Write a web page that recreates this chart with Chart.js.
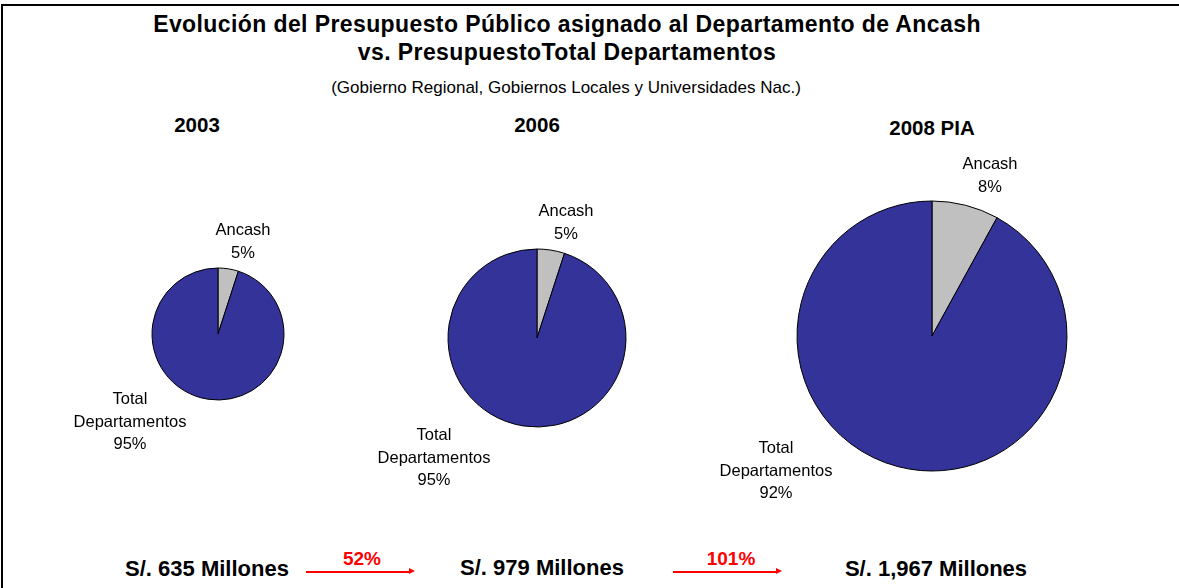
<!DOCTYPE html>
<html><head><meta charset="utf-8">
<script src="https://cdn.jsdelivr.net/npm/chart.js@4"></script>
<style>
html,body{margin:0;padding:0;background:#fff;width:1179px;height:588px;overflow:hidden;font-family:"Liberation Sans",Arial,sans-serif;}
#frame{position:absolute;left:1px;top:4px;width:1200px;height:600px;border-left:2px solid #000;border-top:2px solid #000;}
.t{position:absolute;white-space:nowrap;transform:translate(-50%,-50%);text-align:center;line-height:1;}
canvas{position:absolute;left:0;top:0;}
.arrow{position:absolute;height:1.5px;background:#f00;}
.arrow:after{content:"";position:absolute;right:-5px;top:-3px;border-left:6px solid #f00;border-top:3.5px solid transparent;border-bottom:3.5px solid transparent;}
</style></head>
<body>
<div id="frame"></div>
<div class="t" style="left:567px;top:24px;font-weight:bold;font-size:23px;letter-spacing:0.4px;">Evolución del Presupuesto Público asignado al Departamento de Ancash</div>
<div class="t" style="left:567px;top:52px;font-weight:bold;font-size:23px;letter-spacing:0.4px;">vs. PresupuestoTotal Departamentos</div>
<div class="t" style="left:566px;top:87px;font-size:17px;">(Gobierno Regional, Gobiernos Locales y Universidades Nac.)</div>
<div id="years"></div>
<div id="bottom"></div>
<canvas id="c0" width="1179" height="588"></canvas>
<canvas id="c1" width="1179" height="588"></canvas>
<canvas id="c2" width="1179" height="588"></canvas>
<script>
const years = ["2003", "2006", "2008 PIA"];
const categories = ["Ancash", "Total Departamentos"];
const ancashPct = [5, 5, 8];
const totalPct = [95, 95, 92];
const budgets = ["S/. 635 Millones", "S/. 979 Millones", "S/. 1,967 Millones"];
const growth = ["52%", "101%"];

// layout (positions/sizes only)
const W = 1179, H = 588;
const centers = [[218,334],[537,338],[932,336]];
const radii = [66, 89, 135];
const yearPos = [[197,125],[537,125],[932,128]];
const labelOffsets = [
  [[25,-92],[-88,88]],
  [[29,-115],[-103,120]],
  [[58,-160],[-156,135]]
];
const budgetPos = [[207,569],[542,568],[936,569]];
const growthPos = [[362,558],[731,558]];
const arrowPos = [[306,572,104],[673,572,104]];

const yearsDiv = document.getElementById('years');
years.forEach((y,i)=>{
  const d=document.createElement('div');d.className='t';
  d.style.cssText=`left:${yearPos[i][0]}px;top:${yearPos[i][1]}px;font-weight:bold;font-size:20.5px;`;
  d.textContent=y;yearsDiv.appendChild(d);
});
const bottom=document.getElementById('bottom');
budgets.forEach((b,i)=>{
  const d=document.createElement('div');d.className='t';
  d.style.cssText=`left:${budgetPos[i][0]}px;top:${budgetPos[i][1]}px;font-weight:bold;font-size:22px;`;
  d.textContent=b;bottom.appendChild(d);
});
growth.forEach((g,i)=>{
  const d=document.createElement('div');d.className='t';
  d.style.cssText=`left:${growthPos[i][0]}px;top:${growthPos[i][1]}px;font-weight:bold;font-size:19px;color:#f00;`;
  d.textContent=g;bottom.appendChild(d);
  const a=document.createElement('div');a.className='arrow';
  a.style.cssText=`left:${arrowPos[i][0]}px;top:${arrowPos[i][1]-1}px;width:${arrowPos[i][2]}px;`;
  bottom.appendChild(a);
});

const labelPlugin = {
  id:'pieLabels',
  afterDatasetsDraw(chart, args, opts){
    const ctx=chart.ctx;
    const meta=chart.getDatasetMeta(0);
    const ds=chart.data.datasets[0];
    ctx.save();
    ctx.font='16.5px "Liberation Sans", Arial, sans-serif';
    ctx.fillStyle='#000';
    ctx.textAlign='center';ctx.textBaseline='middle';
    meta.data.forEach((arc,j)=>{
      const off=opts.offsets[j];
      const lines=chart.data.labels[j].split(' ').concat([ds.data[j]+'%']);
      const x=arc.x+off[0], y=arc.y+off[1];
      const lh=22.5;
      const y0=y-(lines.length-1)*lh/2;
      lines.forEach((l,k)=>ctx.fillText(l,x,y0+k*lh));
    });
    ctx.restore();
  }
};

[0,1,2].forEach(i=>{
  const [cx,cy]=centers[i];
  const R=radii[i]+2;
  new Chart(document.getElementById('c'+i),{
    type:'pie',
    data:{labels:categories,datasets:[{data:[ancashPct[i],totalPct[i]],backgroundColor:['#C0C0C0','#333399'],borderColor:'#000',borderWidth:1}]},
    options:{
      responsive:false,animation:false,
      radius:radii[i],
      layout:{padding:{left:cx-R,right:W-cx-R,top:cy-R,bottom:H-cy-R}},
      plugins:{legend:{display:false},tooltip:{enabled:false},title:{display:false},
        pieLabels:{offsets:labelOffsets[i]}},
      events:[]
    },
    plugins:[labelPlugin]
  });
});
</script>
</body></html>
